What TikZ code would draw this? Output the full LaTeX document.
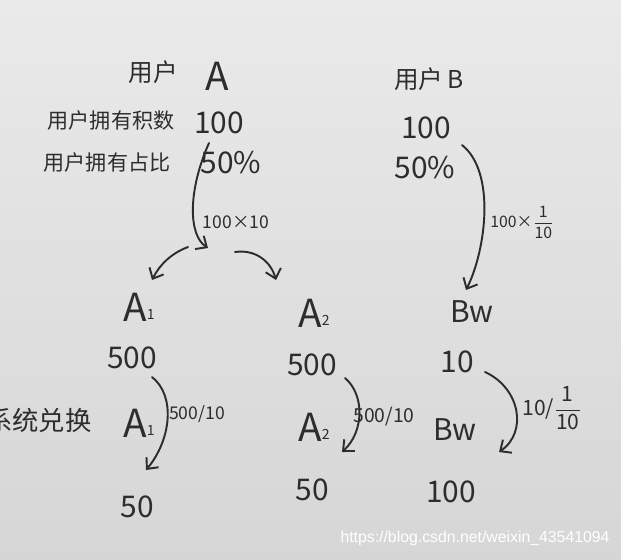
\documentclass[tikz,border=0pt]{standalone}
\usepackage{amsmath}
\usepackage{fontspec}
\setmainfont{Noto Sans CJK SC}
\newfontfamily\markfont{Liberation Sans}
\usetikzlibrary{arrows.meta}
\definecolor{ink}{RGB}{45,45,45}
\definecolor{paperTop}{RGB}{234,234,234}
\definecolor{paperBot}{RGB}{214,214,214}
\newcommand\colA{137}
\newcommand\colAtwo{312}
\newcommand\colB{456}
\newcommand\rowTop{310}
\newcommand\rowNum{362}
\newcommand\rowSwap{426}
\newcommand\tinysub[1]{\raisebox{1pt}{\fontsize{8}{8}\selectfont #1}}

\begin{document}
\begin{tikzpicture}[x=0.02cm,y=-0.02cm,
    hand/.style={text=ink,font=\fontsize{17}{17}\selectfont,inner sep=0pt},
    big/.style={text=ink,font=\fontsize{22}{22}\selectfont,inner sep=0pt},
    cn/.style={text=ink,font=\fontsize{12}{12}\selectfont,inner sep=0pt},
    note/.style={text=ink,font=\fontsize{10}{10}\selectfont,inner sep=0pt},
    stroke/.style={draw=ink,line width=1.1pt,line cap=round,-{Straight Barb[length=5pt,width=9pt]}}]
    \shade[top color=paperTop,bottom color=paperBot] (0,0) rectangle (621,559);
    \useasboundingbox (0,0) rectangle (621,559);

    % HEADERS
    \node[cn,font=\fontsize{14}{14}\selectfont] (userA) at (153,72) {用户};
    \node[big] (nameA) at (217,76) {A};
    \node[cn,font=\fontsize{14}{14}\selectfont] (userB) at (429,79) {用户\,B};

    % ROW LABELS AND VALUES
    \node[cn] (ownLabel) at (111,120) {用户拥有积数};
    \node[cn] (shareLabel) at (107,162) {用户拥有占比};
    \node[hand] (ownA) at (219,123) {100};
    \node[hand] (shareA) at (231,163) {50\%};
    \node[hand] (ownB) at (426,128) {100};
    \node[hand] (shareB) at (425,168) {50\%};

    % USER A SPLIT
    \node[big] (aOneTop) at (\colA+2,\rowTop-3) {A\tinysub{1}};
    \node[big] (aTwoTop) at (\colAtwo+2,\rowTop+3) {A\tinysub{2}};
    \node[hand] (aOneNum) at (\colA-5,\rowNum-4) {500};
    \node[hand] (aTwoNum) at (\colAtwo,\rowNum+3) {500};
    \node[cn,font=\fontsize{15}{15}\selectfont,anchor=east] (swapLabel) at (92,420) {系统兑换};
    \node[big] (aOneSwap) at (\colA+2,\rowSwap-3) {A\tinysub{1}};
    \node[big] (aTwoSwap) at (\colAtwo+2,\rowSwap+1) {A\tinysub{2}};
    \node[hand] (aOneEnd) at (\colA,507) {50};
    \node[hand] (aTwoEnd) at (\colAtwo,490) {50};

    % USER B MERGE
    \node[hand] (bwTop) at (\colB+16,\rowTop+2) {Bw};
    \node[hand] (bwNum) at (\colB+1,\rowNum) {10};
    \node[hand] (bwSwap) at (\colB-1,\rowSwap+4) {Bw};
    \node[hand] (bwEnd) at (\colB-5,492) {100};

    % ARROWS
    \coordinate (aFrom) at (209,143);
    \coordinate (aSplit) at (208,248);
    \coordinate (splitL) at (188,247);
    \coordinate (splitR) at (235,252);
    \coordinate (bFrom) at (462,145);
    \coordinate (bTo) at (466,290);
    \draw[stroke] (aFrom) .. controls (188,190) and (188,235) .. (aSplit);
    \node[note] (mulA) at (236,222) {100×10};
    \draw[stroke] (splitL) .. controls (172,253) and (160,264) .. (152,280);
    \draw[stroke] (splitR) .. controls (256,249) and (271,262) .. (276,280);
    \draw[stroke] (bFrom) .. controls (496,172) and (486,250) .. (bTo);
    \node[note,font=\fontsize{9}{9}\selectfont,anchor=west] (mulB) at (490,222) {100×$\dfrac{\text{1}}{\text{10}}$};

    \coordinate (aOneFrom) at (152,377);
    \coordinate (aOneTo) at (146,470);
    \draw[stroke] (aOneFrom) .. controls (176,396) and (171,440) .. (aOneTo);
    \node[note] (divOne) at (197,414) {500/10};
    \coordinate (aTwoFrom) at (345,378);
    \coordinate (aTwoTo) at (342,452);
    \draw[stroke] (aTwoFrom) .. controls (365,395) and (364,432) .. (aTwoTo);
    \node[note,font=\fontsize{11}{11}\selectfont] (divTwo) at (384,417) {500/10};
    \coordinate (bwFrom) at (485,372);
    \coordinate (bwTo) at (499,452);
    \draw[stroke] (bwFrom) .. controls (520,388) and (528,432) .. (bwTo);
    \node[note,font=\fontsize{12}{12}\selectfont,anchor=west] (divB) at (522,408) {10/$\dfrac{\text{1}}{\text{10}}$};

    % WATERMARK
    \node[text=white,font=\markfont\fontsize{9}{9}\selectfont,inner sep=0pt] (mark) at (475,538) {https://blog.csdn.net/weixin\_43541094};
\end{tikzpicture}
\end{document}
